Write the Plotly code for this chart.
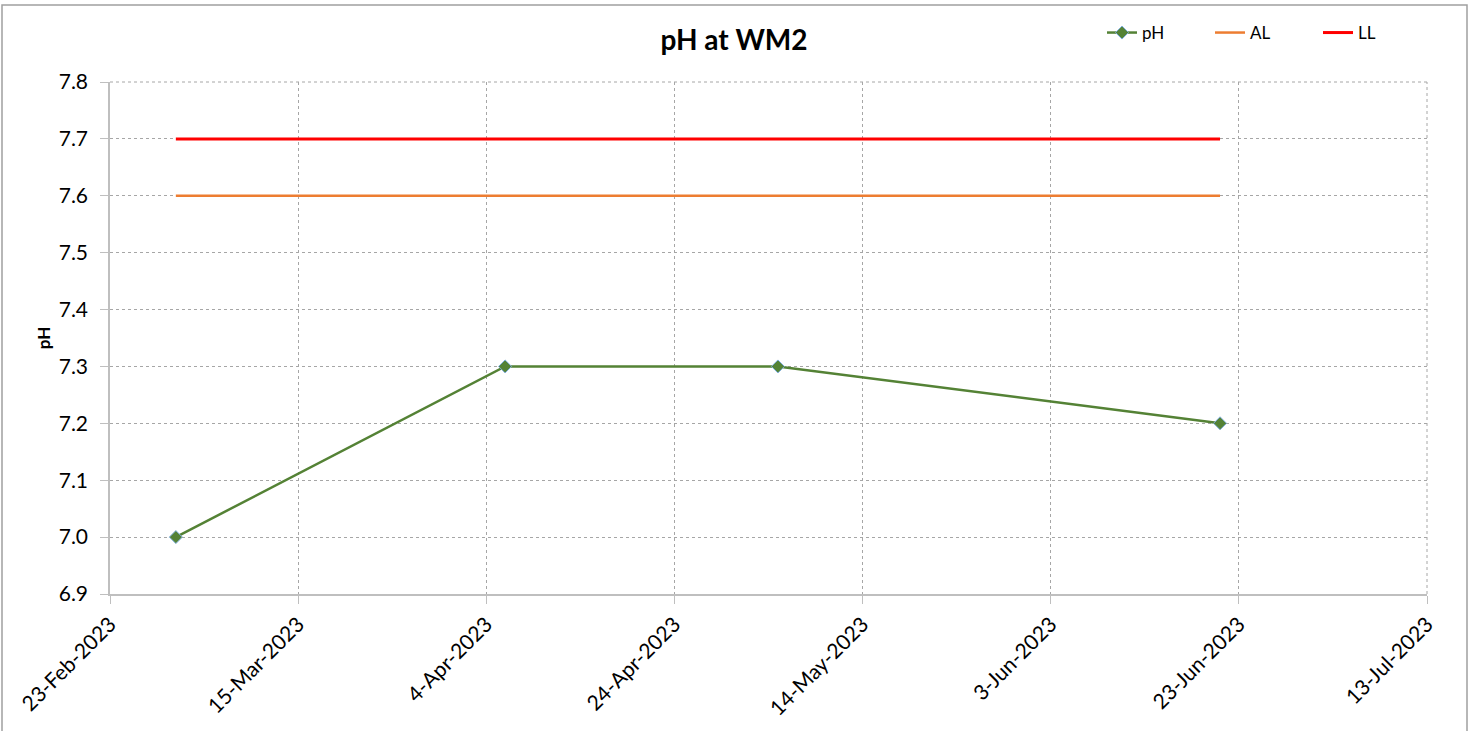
import plotly.graph_objects as go

dates = ["2023-03-02", "2023-04-06", "2023-05-05", "2023-06-21"]
ph_values = [7.0, 7.3, 7.3, 7.2]
al_values = [7.6, 7.6, 7.6, 7.6]
ll_values = [7.7, 7.7, 7.7, 7.7]

tick_dates = ["2023-02-23", "2023-03-15", "2023-04-04", "2023-04-24",
              "2023-05-14", "2023-06-03", "2023-06-23", "2023-07-13"]
tick_labels = ["23-Feb-2023", "15-Mar-2023", "4-Apr-2023", "24-Apr-2023",
               "14-May-2023", "3-Jun-2023", "23-Jun-2023", "13-Jul-2023"]
y_ticks = [6.9, 7.0, 7.1, 7.2, 7.3, 7.4, 7.5, 7.6, 7.7, 7.8]

FONT = "Lato"

fig = go.Figure()
fig.add_trace(go.Scatter(
    x=dates, y=ph_values, name="pH", mode="lines+markers",
    line=dict(color="#548235", width=2.5),
    marker=dict(symbol="diamond", size=10, color="#548235",
                line=dict(color="#7FAEDC", width=1)),
))
fig.add_trace(go.Scatter(
    x=dates, y=al_values, name="AL", mode="lines",
    line=dict(color="#ED7D31", width=2.5),
))
fig.add_trace(go.Scatter(
    x=dates, y=ll_values, name="LL", mode="lines",
    line=dict(color="#FF0000", width=3),
))

W, H = 1475, 731
L, R, T, B = 110, 48, 82, 137
pw, ph = W - L - R, H - T - B

def px_x(x):
    return (x - L) / pw

def px_y(y):
    return (H - B - y) / ph

fig.update_layout(
    width=W, height=H,
    margin=dict(l=L, r=R, t=T, b=B, autoexpand=False),
    paper_bgcolor="white", plot_bgcolor="white",
    font=dict(family=FONT, color="#000000", size=18),
    title=dict(text="<b>pH at WM2</b>", x=px_x(734), xref="paper",
               xanchor="center", y=1 - 40 / H, yanchor="middle",
               font=dict(size=28, family=FONT)),
    legend=dict(orientation="h", x=px_x(1102), y=px_y(33),
                xanchor="left", yanchor="middle",
                font=dict(size=17, family=FONT),
                entrywidth=63, entrywidthmode="pixels",
                bgcolor="rgba(0,0,0,0)"),
    showlegend=True,
    xaxis=dict(
        type="date", range=["2023-02-23", "2023-07-13"],
        tickmode="array", tickvals=tick_dates, ticktext=tick_labels,
        tickangle=-45, tickfont=dict(size=21, family=FONT),
        showgrid=True, gridcolor="#A6A6A6", griddash="dot", gridwidth=1,
        showline=True, linecolor="#BFBFBF", linewidth=1.5,
        ticks="outside", ticklen=8, tickcolor="#BFBFBF",
        zeroline=False, mirror=False,
    ),
    yaxis=dict(
        range=[6.9, 7.8], tickmode="array", tickvals=y_ticks,
        ticktext=[f"{v:.1f}" for v in y_ticks],
        tickfont=dict(size=21, family=FONT),
        ticklabelstandoff=8,
        title=dict(text="<b>pH</b>", font=dict(size=17, family=FONT), standoff=4),
        showgrid=True, gridcolor="#A6A6A6", griddash="dot", gridwidth=1,
        showline=True, linecolor="#BFBFBF", linewidth=1.5,
        ticks="outside", ticklen=8, tickcolor="#BFBFBF",
        zeroline=False,
    ),
)

# dashed top and right border of the grid box
fig.add_shape(type="line", xref="paper", yref="paper", x0=0, x1=1, y0=1, y1=1,
              line=dict(color="#A6A6A6", width=1, dash="dot"))
fig.add_shape(type="line", xref="paper", yref="paper", x0=1, x1=1, y0=0, y1=1,
              line=dict(color="#A6A6A6", width=1, dash="dot"))

# outer chart border
fig.add_shape(type="rect", xref="paper", yref="paper",
              x0=px_x(2), x1=px_x(1467), y0=px_y(740), y1=px_y(5),
              line=dict(color="#A0A0A0", width=1.5), layer="below")

fig.write_html("out.html", config={"displayModeBar": False},
               post_script="document.body.style.margin='0';document.body.style.overflow='hidden';")
